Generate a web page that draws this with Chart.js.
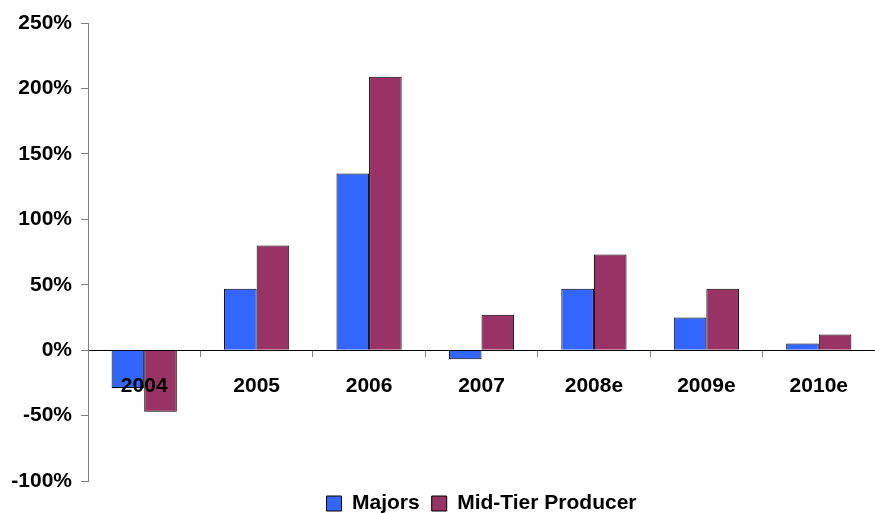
<!DOCTYPE html>
<html>
<head>
<meta charset="utf-8">
<script src="https://cdn.jsdelivr.net/npm/chart.js@4/dist/chart.umd.min.js"></script>
<style>
  html, body { margin: 0; padding: 0; background: #fff; }
  #wrap { width: 875px; height: 513px; }
</style>
</head>
<body>
<div id="wrap"><canvas id="chart"></canvas></div>
<script>
// Data
const years = ['2004', '2005', '2006', '2007', '2008e', '2009e', '2010e'];
const majors = [-29, 47, 135, -7, 47, 25, 5];
const midTier = [-47, 80, 209, 27, 73, 47, 12];
const yMin = -100;
const yMax = 250;
const yStep = 50;

const font = { family: "'Liberation Sans', Arial, sans-serif", size: 21, weight: 'bold' };

new Chart(document.getElementById('chart'), {
    type: 'bar',
    data: {
        labels: years,
        datasets: [
            {
                label: 'Majors',
                data: majors,
                backgroundColor: '#3366ff',
                borderColor: '#000',
                borderWidth: 1
            },
            {
                label: 'Mid-Tier Producer',
                data: midTier,
                backgroundColor: '#993366',
                borderColor: '#000',
                borderWidth: 1
            }
        ]
    },
    options: {
        responsive: true,
        maintainAspectRatio: false,
        animation: false,
        categoryPercentage: 0.58,
        barPercentage: 1,
        layout: { padding: { top: 23, right: 0, bottom: -11, left: 0 } },
        plugins: {
            tooltip: { enabled: false },
            legend: {
                position: 'bottom',
                fullSize: false,
                labels: {
                    color: '#000',
                    font: font,
                    boxWidth: 15,
                    boxHeight: 15,
                    padding: 12
                }
            }
        },
        scales: {
            x: {
                position: { y: 0 },
                grid: {
                    offset: true,
                    drawOnChartArea: false,
                    tickLength: 6,
                    color: '#808080'
                },
                border: { color: '#000', width: 1 },
                // labels sit on top of the bars, as in the original
                ticks: { color: '#000', font: font, padding: 17, z: 1 }
            },
            y: {
                min: yMin,
                max: yMax,
                afterFit: (s) => { s.width = 88; },
                grid: {
                    drawOnChartArea: false,
                    tickLength: 7,
                    color: '#808080'
                },
                border: { color: '#808080', width: 1 },
                ticks: {
                    stepSize: yStep,
                    color: '#000',
                    font: font,
                    padding: 9,
                    callback: (v) => v + '%'
                }
            }
        }
    }
});
</script>
</body>
</html>
